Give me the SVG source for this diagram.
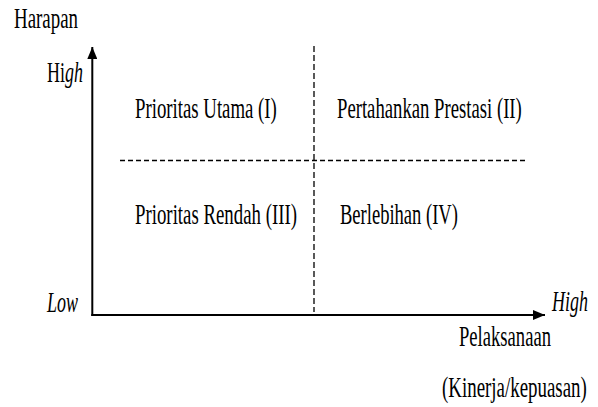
<svg xmlns="http://www.w3.org/2000/svg" width="598" height="407" viewBox="0 0 598 407">
  <style>
    text { font-family: "Liberation Serif", "Times New Roman", serif; font-size: 29px; fill: #000; }
    .it { font-style: italic; }
    .axis { stroke: #000; stroke-width: 2; fill: none; }
    .dash { stroke: #000; stroke-width: 1.3; fill: none; }
    .dv { stroke-dasharray: 6 3; }
    .dh { stroke-dasharray: 5 3; }
  </style>
  <defs>
    <marker id="arrow" viewBox="0 0 12 10" refX="12" refY="5" markerWidth="12" markerHeight="10" markerUnits="userSpaceOnUse" orient="auto">
      <path d="M0,0 L12,5 L0,10 Z" fill="#000"/>
    </marker>
  </defs>
  <rect width="598" height="407" fill="#fff"/>
  <g id="connectors">
    <line class="dash dv" x1="314" y1="46" x2="314" y2="312"/>
    <line class="dash dh" x1="120" y1="160.5" x2="526" y2="160.5"/>
    <line class="axis" x1="92.3" y1="316" x2="92.3" y2="47" marker-end="url(#arrow)"/>
    <line class="axis" x1="91.3" y1="315" x2="545" y2="315" marker-end="url(#arrow)"/>
  </g>
  <g id="axis-labels">
    <text transform="translate(14,28) scale(0.652,1)">Harapan</text>
    <text transform="translate(47,82) scale(0.62,1)">Hi<tspan class="it">gh</tspan></text>
    <text class="it" transform="translate(47,312) scale(0.62,1)">Low</text>
    <text class="it" transform="translate(552,311) scale(0.62,1)">High</text>
    <text transform="translate(459,346) scale(0.642,1)">Pelaksanaan</text>
    <text transform="translate(442,397) scale(0.652,1)">(Kinerja/kepuasan)</text>
  </g>
  <g id="q1"><text transform="translate(135,117.5) scale(0.648,1)">Prioritas Utama (I)</text></g>
  <g id="q2"><text transform="translate(337,117.5) scale(0.645,1)">Pertahankan Prestasi (II)</text></g>
  <g id="q3"><text transform="translate(135,224) scale(0.649,1)">Prioritas Rendah (III)</text></g>
  <g id="q4"><text transform="translate(340,224) scale(0.64,1)">Berlebihan (IV)</text></g>
</svg>
